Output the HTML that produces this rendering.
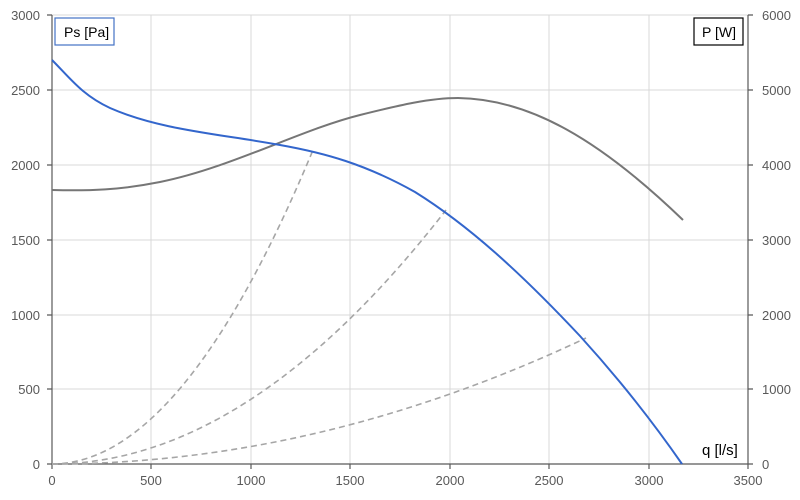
<!DOCTYPE html>
<html><head><style>body{margin:0;background:#fff}svg{display:block;font-family:"Liberation Sans",sans-serif}</style></head><body>
<svg width="800" height="500" viewBox="0 0 800 500">
<g stroke="#d9d9d9" stroke-width="1">
<line x1="52" y1="15" x2="748" y2="15"/><line x1="52" y1="90" x2="748" y2="90"/><line x1="52" y1="165" x2="748" y2="165"/><line x1="52" y1="240" x2="748" y2="240"/><line x1="52" y1="315" x2="748" y2="315"/><line x1="52" y1="389" x2="748" y2="389"/>
<line x1="151" y1="15" x2="151" y2="464"/><line x1="251" y1="15" x2="251" y2="464"/><line x1="350" y1="15" x2="350" y2="464"/><line x1="450" y1="15" x2="450" y2="464"/><line x1="549" y1="15" x2="549" y2="464"/><line x1="649" y1="15" x2="649" y2="464"/>
</g>
<g stroke="#595959" stroke-width="1.2" fill="none">
<line x1="52" y1="15" x2="52" y2="464"/><line x1="748" y1="15" x2="748" y2="464"/><line x1="47" y1="464" x2="753" y2="464"/>
<path d="M47 15h5M47 90h5M47 165h5M47 240h5M47 315h5M47 389h5M748 15h5M748 90h5M748 165h5M748 240h5M748 315h5M748 389h5M151 464v5M251 464v5M350 464v5M450 464v5M549 464v5M649 464v5M748 464v5M52 464v5"/>
</g>
<g font-size="13" fill="#595959" text-anchor="end">
<text x="40" y="20">3000</text><text x="40" y="95">2500</text><text x="40" y="170">2000</text><text x="40" y="245">1500</text><text x="40" y="320">1000</text><text x="40" y="394">500</text><text x="40" y="469">0</text>
</g>
<g font-size="13" fill="#595959" text-anchor="start">
<text x="762" y="20">6000</text><text x="762" y="95">5000</text><text x="762" y="170">4000</text><text x="762" y="245">3000</text><text x="762" y="320">2000</text><text x="762" y="394">1000</text><text x="762" y="469">0</text>
</g>
<g font-size="13" fill="#595959" text-anchor="middle">
<text x="52" y="485">0</text><text x="151" y="485">500</text><text x="251" y="485">1000</text><text x="350" y="485">1500</text><text x="450" y="485">2000</text><text x="549" y="485">2500</text><text x="649" y="485">3000</text><text x="748" y="485">3500</text>
</g>
<g stroke="#a6a6a6" stroke-width="1.6" fill="none" stroke-dasharray="6,4">
<path d="M52 464Q182.5 464 313 150"/><path d="M52 464Q249 464 446 210"/><path d="M52 464Q319 464 586 338"/>
</g>
<path d="M52 190C90 191 120 190 160 182C230 168 300 130 360 115C400 105 430 98 458 98C530 99 600 140 683 220" stroke="#767676" stroke-width="2" fill="none"/>
<path d="M52 60C70 78 82 95 110 108C160 130 220 134 280 145C325 153 365 164 415 192C468 225 520 272 580 336C620 380 655 425 682 464" stroke="#3366cc" stroke-width="2" fill="none"/>
<rect x="55" y="18" width="59" height="27" fill="#fff" stroke="#4472c4" stroke-width="1.2"/>
<text x="64" y="37" font-size="14" fill="#000">Ps [Pa]</text>
<rect x="694" y="18" width="49" height="27" fill="#fff" stroke="#000" stroke-width="1.2"/>
<text x="702" y="37" font-size="14" fill="#000">P [W]</text>
<text x="702" y="455" font-size="15" fill="#000">q [l/s]</text>
</svg>
</body></html>
